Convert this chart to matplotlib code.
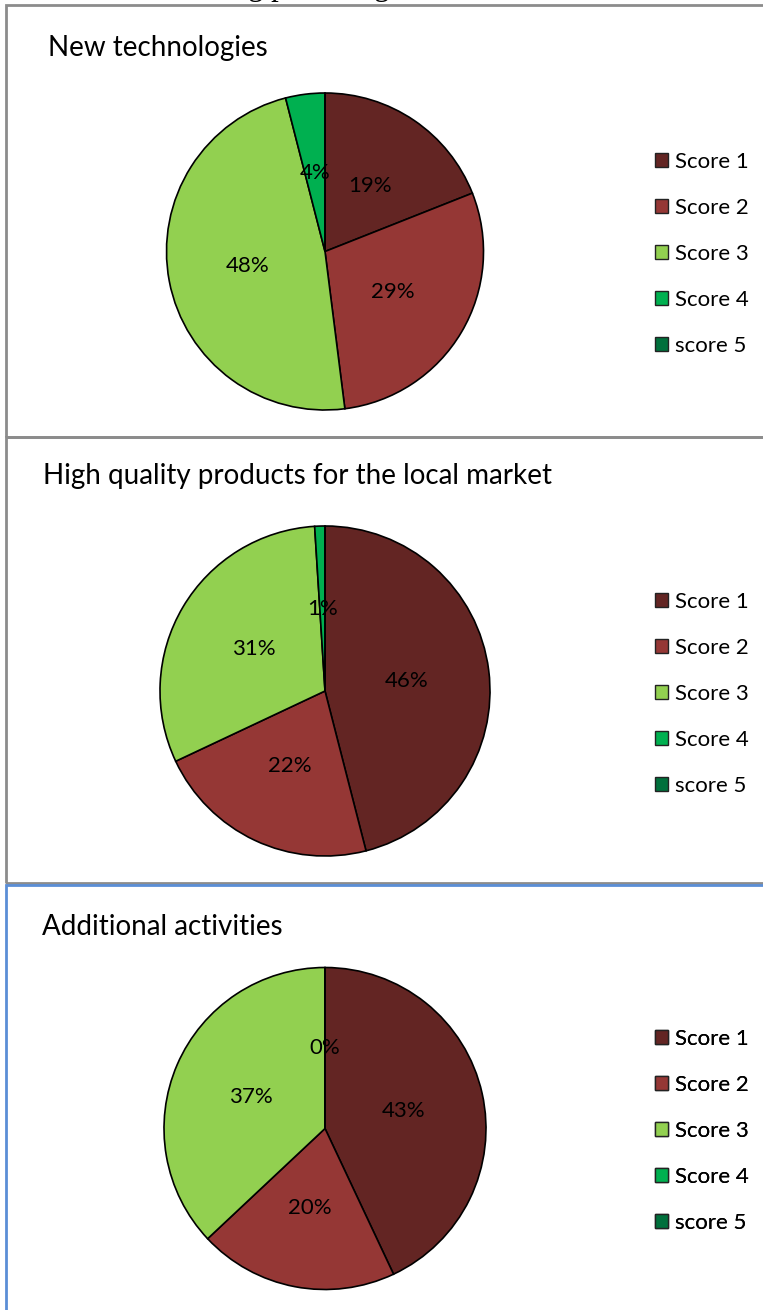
import matplotlib
matplotlib.use("Agg")
import matplotlib.pyplot as plt
from matplotlib.patches import Rectangle, Patch

categories = ["Score 1", "Score 2", "Score 3", "Score 4", "score 5"]
titles = ["New technologies", "High quality products for the local market", "Additional activities"]
new_tech = [19, 29, 48, 4, 0]
high_quality = [46, 22, 31, 1, 0]
additional = [43, 20, 37, 0, 0]
series = [new_tech, high_quality, additional]
colors = ["#632523", "#953735", "#92D050", "#00B050", "#00703C"]

W, H = 763, 1310
fig = plt.figure(figsize=(W / 100, H / 100), dpi=100)
ax = fig.add_axes([0, 0, 1, 1])
ax.set_xlim(0, W)
ax.set_ylim(0, H)
ax.set_aspect("equal")
ax.axis("off")

FONT = "Lato"

def Y(y):
    return H - y

# cut-off line of surrounding document text (only descenders visible, as in the source)
fig.text(233 / W, 1 + 4.5 / H, "ng percentage", fontsize=22, family="Liberation Serif",
         ha="left", va="baseline", color="black")

# panel borders
gray = "#8c8c8c"
blue = "#5b8ed6"
ax.add_patch(Rectangle((6, Y(437)), 800, 432, fill=False, edgecolor=gray, lw=2))
ax.add_patch(Rectangle((6, Y(883)), 800, 446, fill=False, edgecolor=gray, lw=2))
ax.add_patch(Rectangle((6, Y(1330)), 800, 445, fill=False, edgecolor=blue, lw=2))

centers = [(325, 251.5), (325, 691), (325, 1128.5)]
radii = [158.5, 165, 161]
title_pos = [(48, 48), (43, 476), (42, 927)]
legend_top = [160, 600, 1037]

for vals, (cx, cy), r, title, (tx, ty), lt in zip(series, centers, radii, titles, title_pos, legend_top):
    wedges, texts, autotexts = ax.pie(
        vals, colors=colors, center=(cx, Y(cy)), radius=r, startangle=90,
        counterclock=False, autopct="%1.0f%%", pctdistance=0.5,
        wedgeprops=dict(edgecolor="black", linewidth=1.2),
        textprops=dict(fontsize=16, family=FONT, color="black"),
        frame=True,
    )
    autotexts[-1].set_visible(False)
    ax.text(tx, Y(ty), title, fontsize=20, family=FONT, ha="left", va="center")
    handles = [Patch(facecolor=c, edgecolor="#222222", linewidth=1) for c in colors]
    leg = ax.legend(handles, categories, loc="upper left",
                    bbox_to_anchor=(655, Y(lt - 8)), bbox_transform=ax.transData,
                    frameon=False, prop=dict(family=FONT, size=16),
                    handlelength=0.6, handleheight=0.6, handletextpad=0.32,
                    labelspacing=1.17, borderpad=0, borderaxespad=0)
    ax.add_artist(leg)

ax.set_xlim(0, W)
ax.set_ylim(0, H)
ax.axis("off")
fig.savefig("out.png", dpi=100)
